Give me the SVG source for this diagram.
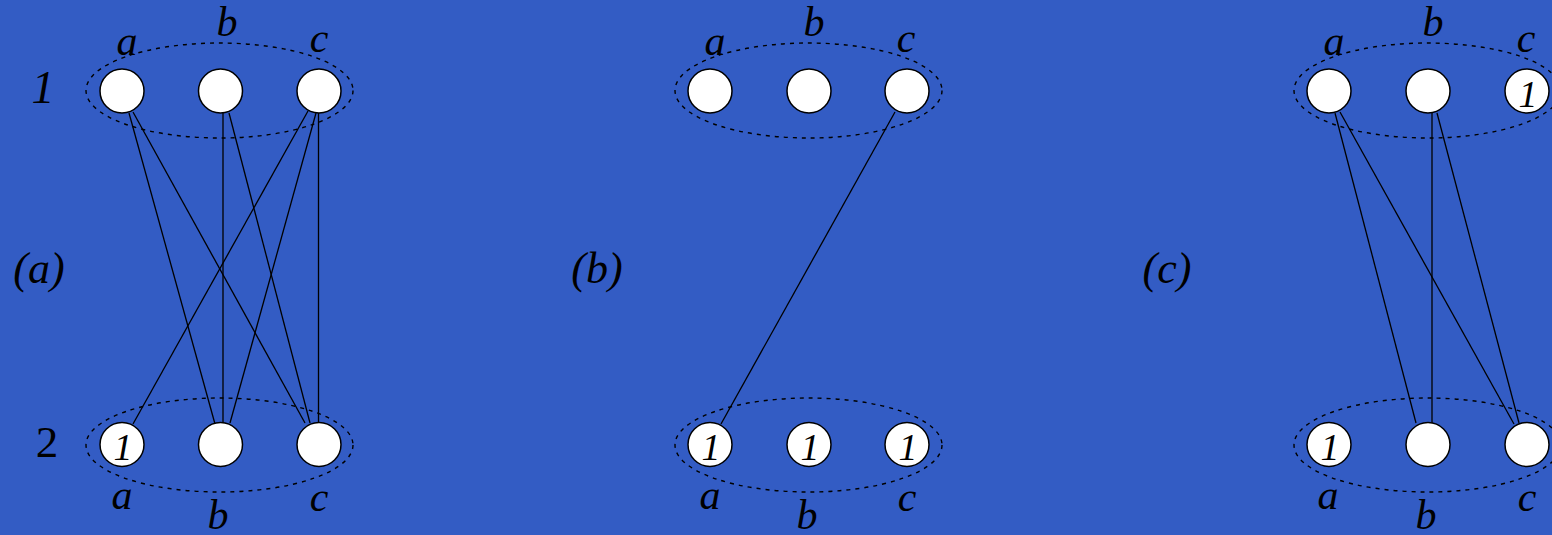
<svg xmlns="http://www.w3.org/2000/svg" width="1552" height="535" viewBox="0 0 1552 535">
<style>
.bg{fill:#335cc4}
.grp{fill:none;stroke:#000;stroke-width:1.4;stroke-dasharray:4 5}
.nd{fill:#fff;stroke:#000;stroke-width:1.5}
.ed{stroke:#000;stroke-width:1.3;fill:none}
.lb{font-family:"Liberation Serif","Times New Roman",serif;font-style:italic;font-size:42px;fill:#000;text-anchor:middle}
.pl{font-family:"Liberation Serif","Times New Roman",serif;font-style:italic;font-size:44px;fill:#000;text-anchor:middle}
.num{font-family:"Liberation Serif","Times New Roman",serif;font-style:italic;font-size:46px;fill:#000;text-anchor:middle}
.in{font-family:"Liberation Serif","Times New Roman",serif;font-style:italic;font-size:38px;fill:#000;text-anchor:middle}
.up{font-family:"Liberation Serif","Times New Roman",serif;font-size:45px;fill:#000;text-anchor:middle}
</style>
<rect class="bg" x="0" y="0" width="1552" height="535"/>

<g id="groups">
<ellipse class="grp" cx="219.5" cy="90.5" rx="133.5" ry="47.5"/>
<ellipse class="grp" cx="219.5" cy="445" rx="133.5" ry="47"/>
<ellipse class="grp" cx="808.5" cy="90.5" rx="133.5" ry="47.5"/>
<ellipse class="grp" cx="808.5" cy="445" rx="133.5" ry="47"/>
<ellipse class="grp" cx="1427.5" cy="90.5" rx="133.5" ry="47.5"/>
<ellipse class="grp" cx="1427.5" cy="445" rx="133.5" ry="47"/>
</g>

<g id="connectors">
<line class="ed" x1="129" y1="113" x2="215" y2="424"/>
<line class="ed" x1="133" y1="112" x2="305" y2="423"/>
<line class="ed" x1="223" y1="113" x2="223" y2="423"/>
<line class="ed" x1="229" y1="113" x2="310" y2="423"/>
<line class="ed" x1="308" y1="111" x2="133" y2="424"/>
<line class="ed" x1="316" y1="113" x2="230" y2="423"/>
<line class="ed" x1="318.5" y1="113" x2="318.5" y2="423"/>
<line class="ed" x1="895" y1="112" x2="721" y2="424"/>
<line class="ed" x1="1335" y1="113" x2="1416" y2="423"/>
<line class="ed" x1="1340" y1="112" x2="1514" y2="424"/>
<line class="ed" x1="1432" y1="113" x2="1432" y2="423"/>
<line class="ed" x1="1437" y1="113" x2="1519" y2="423"/>
</g>

<g id="panel-a-labels">
<text class="pl" x="39" y="283">(a)</text>
<text class="num" x="43" y="103">1</text>
<text class="up" x="47" y="457">2</text>
</g>
<g id="panel-b-labels"><text class="pl" x="597" y="283">(b)</text></g>
<g id="panel-c-labels"><text class="pl" x="1167" y="283">(c)</text></g>

<g id="a-top-a"><circle class="nd" cx="122" cy="91" r="22"/><text class="lb" x="127" y="55">a</text></g>
<g id="a-top-b"><circle class="nd" cx="220.5" cy="91" r="22"/><text class="lb" x="227" y="36">b</text></g>
<g id="a-top-c"><circle class="nd" cx="319" cy="91" r="22"/><text class="lb" x="319" y="52">c</text></g>
<g id="a-bot-a"><circle class="nd" cx="122" cy="444.5" r="22"/><text class="in" x="123" y="460">1</text><text class="lb" x="122" y="509">a</text></g>
<g id="a-bot-b"><circle class="nd" cx="220.5" cy="444.5" r="22"/><text class="lb" x="218" y="529">b</text></g>
<g id="a-bot-c"><circle class="nd" cx="319" cy="444.5" r="22"/><text class="lb" x="319" y="511">c</text></g>

<g id="b-top-a"><circle class="nd" cx="710" cy="91" r="22"/><text class="lb" x="715" y="55">a</text></g>
<g id="b-top-b"><circle class="nd" cx="809" cy="91" r="22"/><text class="lb" x="814" y="36">b</text></g>
<g id="b-top-c"><circle class="nd" cx="907" cy="91" r="22"/><text class="lb" x="906" y="52">c</text></g>
<g id="b-bot-a"><circle class="nd" cx="710" cy="444.5" r="22"/><text class="in" x="711" y="460">1</text><text class="lb" x="710" y="509">a</text></g>
<g id="b-bot-b"><circle class="nd" cx="809" cy="444.5" r="22"/><text class="in" x="810" y="460">1</text><text class="lb" x="807" y="529">b</text></g>
<g id="b-bot-c"><circle class="nd" cx="907" cy="444.5" r="22"/><text class="in" x="908" y="460">1</text><text class="lb" x="907" y="511">c</text></g>

<g id="c-top-a"><circle class="nd" cx="1329" cy="91" r="22"/><text class="lb" x="1334" y="55">a</text></g>
<g id="c-top-b"><circle class="nd" cx="1428" cy="91" r="22"/><text class="lb" x="1433" y="36">b</text></g>
<g id="c-top-c"><circle class="nd" cx="1527" cy="91" r="22"/><text class="in" x="1528" y="107">1</text><text class="lb" x="1526" y="52">c</text></g>
<g id="c-bot-a"><circle class="nd" cx="1329" cy="444.5" r="22"/><text class="in" x="1330" y="460">1</text><text class="lb" x="1328" y="509">a</text></g>
<g id="c-bot-b"><circle class="nd" cx="1428" cy="444.5" r="22"/><text class="lb" x="1426" y="529">b</text></g>
<g id="c-bot-c"><circle class="nd" cx="1527" cy="444.5" r="22"/><text class="lb" x="1527" y="511">c</text></g>
</svg>
